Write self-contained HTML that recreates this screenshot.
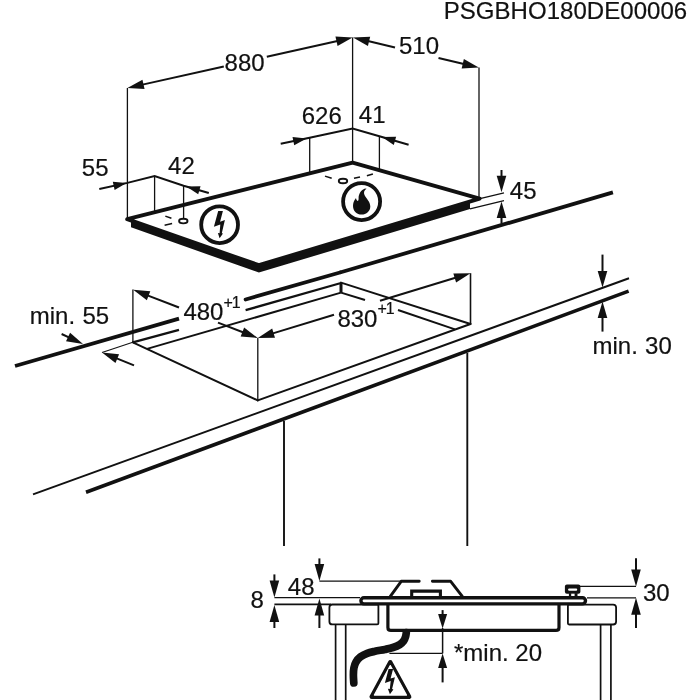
<!DOCTYPE html>
<html><head><meta charset="utf-8"><title>PSGBHO180DE00006</title>
<style>
html,body{margin:0;padding:0;background:#fff;}
body{width:700px;height:700px;overflow:hidden;}
svg{display:block;will-change:transform;filter:grayscale(1);}
svg text{font-family:"Liberation Sans",sans-serif;fill:#111;stroke:#111;stroke-width:0.2px;}
</style></head>
<body>
<svg width="700" height="700" viewBox="0 0 700 700">
<rect width="700" height="700" fill="#fff"/>
<text transform="translate(443.7,19.0) scale(1,0.985)" font-size="24" text-anchor="start" letter-spacing="0.05">PSGBHO180DE00006</text>
<polygon points="131.00,220.60 258.90,265.20 470.00,201.40 470.00,209.00 258.90,272.60 131.00,227.30" fill="#111" stroke="none" stroke-width="0" stroke-linejoin="miter"/>
<polygon points="127.20,219.20 352.60,162.60 479.60,198.70 258.90,265.20" fill="#fff" stroke="#111" stroke-width="3.9" stroke-linejoin="round"/>
<line x1="127.4" y1="88" x2="127.4" y2="218" stroke="#111" stroke-width="1.3" stroke-linecap="butt"/>
<line x1="352.6" y1="37.5" x2="352.6" y2="162" stroke="#111" stroke-width="1.3" stroke-linecap="butt"/>
<line x1="479" y1="67.6" x2="479" y2="198" stroke="#111" stroke-width="1.3" stroke-linecap="butt"/>
<line x1="154.6" y1="176" x2="154.6" y2="212.5" stroke="#111" stroke-width="1.3" stroke-linecap="butt"/>
<line x1="183.6" y1="185.7" x2="183.6" y2="219" stroke="#111" stroke-width="1.3" stroke-linecap="butt"/>
<line x1="309.7" y1="137.9" x2="309.7" y2="172" stroke="#111" stroke-width="1.3" stroke-linecap="butt"/>
<line x1="379.4" y1="136.9" x2="379.4" y2="169" stroke="#111" stroke-width="1.3" stroke-linecap="butt"/>
<line x1="140.28134782712976" y1="85.1171406283866" x2="223.8" y2="66.42557726465364" stroke="#111" stroke-width="2.0" stroke-linecap="butt"/>
<line x1="266.8" y1="56.80213143872113" x2="339.71865217287024" y2="40.482859371613415" stroke="#111" stroke-width="2.0" stroke-linecap="butt"/>
<polygon points="127.40,88.00 142.45,79.71 144.55,89.08" fill="#111" stroke="none" stroke-width="0" stroke-linejoin="miter"/>
<polygon points="352.60,37.60 337.55,45.89 335.45,36.52" fill="#111" stroke="none" stroke-width="0" stroke-linejoin="miter"/>
<text transform="translate(224.6,70.9) scale(1,0.985)" font-size="24" text-anchor="start" >880</text>
<line x1="365.83763981953325" y1="40.571645139649846" x2="395" y2="47.549284578696344" stroke="#111" stroke-width="2.0" stroke-linecap="butt"/>
<line x1="438.5" y1="57.957472178060414" x2="465.96236018046676" y2="64.52835486035015" stroke="#111" stroke-width="2.0" stroke-linecap="butt"/>
<polygon points="353.00,37.50 370.16,36.67 367.93,46.01" fill="#111" stroke="none" stroke-width="0" stroke-linejoin="miter"/>
<polygon points="478.80,67.60 461.64,68.43 463.87,59.09" fill="#111" stroke="none" stroke-width="0" stroke-linejoin="miter"/>
<text transform="translate(399,54.3) scale(1,0.985)" font-size="24" text-anchor="start" >510</text>
<polyline points="99.3,188.9 127.4,182.9 154.6,176 183.6,185.7 208.8,193" fill="none" stroke="#111" stroke-width="2" stroke-linejoin="miter"/>
<polygon points="126.60,183.00 114.61,189.94 112.81,181.73" fill="#111" stroke="none" stroke-width="0" stroke-linejoin="miter"/>
<polygon points="186.40,186.50 200.54,186.22 198.20,194.29" fill="#111" stroke="none" stroke-width="0" stroke-linejoin="miter"/>
<text transform="translate(81.8,176.1) scale(1,0.985)" font-size="24" text-anchor="start" >55</text>
<text transform="translate(168.1,174) scale(1,0.985)" font-size="24" text-anchor="start" >42</text>
<polyline points="280.7,143.7 309.6,137.8 352.6,128.6 379.4,136.3 408.6,144.8" fill="none" stroke="#111" stroke-width="2" stroke-linejoin="miter"/>
<polygon points="306.60,138.40 294.21,145.22 292.53,136.99" fill="#111" stroke="none" stroke-width="0" stroke-linejoin="miter"/>
<polygon points="382.00,137.10 396.14,136.84 393.79,144.91" fill="#111" stroke="none" stroke-width="0" stroke-linejoin="miter"/>
<text transform="translate(301.7,123.6) scale(1,0.985)" font-size="24" text-anchor="start" >626</text>
<text transform="translate(358.8,122.8) scale(1,0.985)" font-size="24" text-anchor="start" >41</text>
<line x1="480" y1="198.6" x2="504" y2="192.8" stroke="#111" stroke-width="1.2" stroke-linecap="butt"/>
<line x1="470" y1="208.9" x2="504" y2="200.7" stroke="#111" stroke-width="1.2" stroke-linecap="butt"/>
<line x1="501.5" y1="170" x2="501.5" y2="179.10000000000002" stroke="#111" stroke-width="2.0" stroke-linecap="butt"/>
<polygon points="501.50,192.30 496.70,175.80 506.30,175.80" fill="#111" stroke="none" stroke-width="0" stroke-linejoin="miter"/>
<line x1="501.5" y1="223.5" x2="501.5" y2="214.6" stroke="#111" stroke-width="2.0" stroke-linecap="butt"/>
<polygon points="501.50,201.40 506.30,217.90 496.70,217.90" fill="#111" stroke="none" stroke-width="0" stroke-linejoin="miter"/>
<text transform="translate(509.8,199.2) scale(1,0.985)" font-size="24" text-anchor="start" >45</text>
<ellipse cx="183.3" cy="221.1" rx="4.2" ry="2.3" fill="#fff" stroke="#111" stroke-width="1.9"/>
<line x1="165.3" y1="216.1" x2="171.4" y2="218.3" stroke="#111" stroke-width="1.5" stroke-linecap="butt"/>
<line x1="164.6" y1="225.3" x2="172.1" y2="223.6" stroke="#111" stroke-width="1.5" stroke-linecap="butt"/>
<ellipse cx="343" cy="181" rx="4.2" ry="2.3" fill="#fff" stroke="#111" stroke-width="1.9"/>
<line x1="325" y1="176.1" x2="331.7" y2="178.3" stroke="#111" stroke-width="1.5" stroke-linecap="butt"/>
<line x1="354" y1="178.3" x2="360" y2="176.9" stroke="#111" stroke-width="1.5" stroke-linecap="butt"/>
<line x1="366.9" y1="175.7" x2="372.9" y2="174" stroke="#111" stroke-width="1.5" stroke-linecap="butt"/>
<circle cx="219.6" cy="224.7" r="18.4" fill="#fff" stroke="#111" stroke-width="3.8"/>
<polygon points="218.20,211.10 222.90,211.10 220.10,221.70 224.90,219.90 221.80,233.20 223.00,233.40 219.60,238.30 217.90,233.00 219.60,233.20 220.30,224.50 213.90,226.80" fill="#111" stroke="none" stroke-width="0" stroke-linejoin="miter"/>
<circle cx="361.6" cy="201.6" r="18.5" fill="#fff" stroke="#111" stroke-width="3.8"/>
<path d="M365,188.6 C361,190 358.5,194 358.6,198.5 C358.6,200.5 358,201.5 357,200.5 C356.3,199.8 356,199 356,198 C353.8,200.5 353,203.5 353,206 C353,211 357,214.6 361.5,214.6 C366.5,214.6 370.3,211 370.3,206.5 C370.3,201.5 366,198.5 364.5,195 C363.5,192.5 364,190.3 366.6,188.8 Z" fill="#111"/>
<line x1="15" y1="366" x2="179" y2="318.7" stroke="#111" stroke-width="3.8" stroke-linecap="butt"/>
<line x1="245.6" y1="299.5" x2="340" y2="272.5" stroke="#111" stroke-width="3.8" stroke-linecap="round"/>
<line x1="340" y1="272.5" x2="612.9" y2="192.4" stroke="#111" stroke-width="3.8" stroke-linecap="butt"/>
<line x1="33" y1="494.4" x2="629" y2="278.2" stroke="#111" stroke-width="2.0" stroke-linecap="butt"/>
<line x1="86" y1="492.3" x2="628.6" y2="291.1" stroke="#111" stroke-width="3.6" stroke-linecap="butt"/>
<line x1="132.8" y1="342.3" x2="179" y2="329.8" stroke="#111" stroke-width="2.3" stroke-linecap="butt"/>
<line x1="245.6" y1="310.2" x2="341" y2="283" stroke="#111" stroke-width="2.3" stroke-linecap="butt"/>
<line x1="341" y1="282.6" x2="470.5" y2="324" stroke="#111" stroke-width="2.0" stroke-linecap="round"/>
<line x1="132.8" y1="342.3" x2="257.8" y2="400.4" stroke="#111" stroke-width="2.0" stroke-linecap="round"/>
<line x1="257.8" y1="400.4" x2="470.5" y2="324" stroke="#111" stroke-width="2.0" stroke-linecap="round"/>
<line x1="147" y1="348.9" x2="341" y2="292.6" stroke="#111" stroke-width="2.0" stroke-linecap="butt"/>
<line x1="341" y1="283" x2="341" y2="292.6" stroke="#111" stroke-width="3.0" stroke-linecap="butt"/>
<line x1="341" y1="292.6" x2="365" y2="300" stroke="#111" stroke-width="2.0" stroke-linecap="butt"/>
<line x1="398" y1="310" x2="455" y2="329.4" stroke="#111" stroke-width="2.0" stroke-linecap="butt"/>
<line x1="132.9" y1="289.6" x2="132.9" y2="342" stroke="#111" stroke-width="1.3" stroke-linecap="butt"/>
<line x1="257.8" y1="338" x2="257.8" y2="400" stroke="#111" stroke-width="1.3" stroke-linecap="butt"/>
<line x1="470.5" y1="273.2" x2="470.5" y2="324" stroke="#111" stroke-width="1.6" stroke-linecap="butt"/>
<line x1="145.51097156916018" y1="294.5623501575724" x2="179" y2="307.51717495987157" stroke="#111" stroke-width="2.0" stroke-linecap="butt"/>
<line x1="218" y1="322.60385232744784" x2="245.48902843083982" y2="333.23764984242763" stroke="#111" stroke-width="2.0" stroke-linecap="butt"/>
<polygon points="133.20,289.80 150.32,291.28 146.86,300.23" fill="#111" stroke="none" stroke-width="0" stroke-linejoin="miter"/>
<polygon points="257.80,338.00 240.68,336.52 244.14,327.57" fill="#111" stroke="none" stroke-width="0" stroke-linejoin="miter"/>
<text transform="translate(183.4,320.2) scale(1,0.985)" font-size="24" text-anchor="start" >480</text>
<text transform="translate(223.6,307.6) scale(1,0.985)" font-size="16" text-anchor="start" letter-spacing="-1.2">+1</text>
<line x1="270.4270162876875" y1="334.1531233876721" x2="334" y2="314.78533145275037" stroke="#111" stroke-width="2.0" stroke-linecap="butt"/>
<line x1="380" y1="300.7712270803949" x2="457.87298371231253" y2="277.0468766123279" stroke="#111" stroke-width="2.0" stroke-linecap="butt"/>
<polygon points="257.80,338.00 272.18,328.60 274.98,337.78" fill="#111" stroke="none" stroke-width="0" stroke-linejoin="miter"/>
<polygon points="470.50,273.20 456.12,282.60 453.32,273.42" fill="#111" stroke="none" stroke-width="0" stroke-linejoin="miter"/>
<text transform="translate(337.4,326.6) scale(1,0.985)" font-size="24" text-anchor="start" >830</text>
<text transform="translate(377.6,314.2) scale(1,0.985)" font-size="16" text-anchor="start" letter-spacing="-1.2">+1</text>
<text transform="translate(29.8,324.2) scale(1,0.985)" font-size="24" text-anchor="start" word-spacing="0.6">min. 55</text>
<line x1="61.6" y1="334" x2="71.04123940456823" y2="338.41179411428425" stroke="#111" stroke-width="2.0" stroke-linecap="butt"/>
<polygon points="83.00,344.00 66.02,341.36 70.08,332.67" fill="#111" stroke="none" stroke-width="0" stroke-linejoin="miter"/>
<line x1="134" y1="365.4" x2="114.22935881801448" y2="357.36817701981835" stroke="#111" stroke-width="2.0" stroke-linecap="butt"/>
<polygon points="102.00,352.40 119.09,354.16 115.48,363.06" fill="#111" stroke="none" stroke-width="0" stroke-linejoin="miter"/>
<line x1="102" y1="352.4" x2="132.8" y2="342.3" stroke="#111" stroke-width="1.1" stroke-linecap="butt"/>
<line x1="284" y1="421" x2="284" y2="546" stroke="#111" stroke-width="1.9" stroke-linecap="butt"/>
<line x1="467.3" y1="353" x2="467.3" y2="546" stroke="#111" stroke-width="1.9" stroke-linecap="butt"/>
<line x1="602.5" y1="254.6" x2="602.5" y2="274.3" stroke="#111" stroke-width="2.0" stroke-linecap="butt"/>
<polygon points="602.50,287.50 597.70,271.00 607.30,271.00" fill="#111" stroke="none" stroke-width="0" stroke-linejoin="miter"/>
<line x1="602.5" y1="331.6" x2="602.5" y2="314.8" stroke="#111" stroke-width="2.0" stroke-linecap="butt"/>
<polygon points="602.50,301.60 607.30,318.10 597.70,318.10" fill="#111" stroke="none" stroke-width="0" stroke-linejoin="miter"/>
<text transform="translate(592.5,353.5) scale(1,0.985)" font-size="24" text-anchor="start" word-spacing="0.6">min. 30</text>
<line x1="319.4" y1="558.4" x2="319.4" y2="567.4" stroke="#111" stroke-width="2.0" stroke-linecap="butt"/>
<polygon points="319.40,581.00 314.60,564.00 324.20,564.00" fill="#111" stroke="none" stroke-width="0" stroke-linejoin="miter"/>
<line x1="319.4" y1="581.1" x2="401" y2="581.1" stroke="#111" stroke-width="1.3" stroke-linecap="butt"/>
<line x1="274.4" y1="574.4" x2="274.4" y2="584.0" stroke="#111" stroke-width="2.0" stroke-linecap="butt"/>
<polygon points="274.40,597.60 269.60,580.60 279.20,580.60" fill="#111" stroke="none" stroke-width="0" stroke-linejoin="miter"/>
<line x1="274.4" y1="597.6" x2="360" y2="597.6" stroke="#111" stroke-width="1.3" stroke-linecap="butt"/>
<line x1="274.4" y1="604.4" x2="331" y2="604.4" stroke="#111" stroke-width="1.6" stroke-linecap="butt"/>
<line x1="274.4" y1="628" x2="274.4" y2="618.6" stroke="#111" stroke-width="2.0" stroke-linecap="butt"/>
<polygon points="274.40,605.00 279.20,622.00 269.60,622.00" fill="#111" stroke="none" stroke-width="0" stroke-linejoin="miter"/>
<line x1="319.4" y1="628" x2="319.4" y2="612.0" stroke="#111" stroke-width="2.0" stroke-linecap="butt"/>
<polygon points="319.40,598.40 324.20,615.40 314.60,615.40" fill="#111" stroke="none" stroke-width="0" stroke-linejoin="miter"/>
<text transform="translate(250.4,608.2) scale(1,0.985)" font-size="24" text-anchor="start" >8</text>
<text transform="translate(287.8,595) scale(1,0.985)" font-size="24" text-anchor="start" >48</text>
<path d="M332.4,604.5 H377.2 Q378.4,604.5 378.4,605.7 V623.2 Q378.4,624.4 377.2,624.4 H332.4 Q329.4,624.4 329.4,621.4 V607.5 Q329.4,604.5 332.4,604.5 Z" fill="#fff" stroke="#111" stroke-width="1.8"/>
<path d="M569.1,604.6 H613.1 Q616.1,604.6 616.1,607.6 V621.5 Q616.1,624.5 613.1,624.5 H569.1 Q567.9,624.5 567.9,623.3 V605.8 Q567.9,604.6 569.1,604.6 Z" fill="#fff" stroke="#111" stroke-width="1.8"/>
<line x1="335.6" y1="624.4" x2="335.6" y2="700" stroke="#111" stroke-width="1.7" stroke-linecap="butt"/>
<line x1="345.7" y1="624.4" x2="345.7" y2="700" stroke="#111" stroke-width="1.7" stroke-linecap="butt"/>
<line x1="600.6" y1="624.6" x2="600.6" y2="700" stroke="#111" stroke-width="1.7" stroke-linecap="butt"/>
<line x1="610.9" y1="624.6" x2="610.9" y2="700" stroke="#111" stroke-width="1.7" stroke-linecap="butt"/>
<path d="M406.30,632.60 C406.18,633.27 406.03,635.22 405.60,636.60 C405.17,637.98 404.68,639.57 403.70,640.90 C402.72,642.23 401.48,643.50 399.70,644.60 C397.92,645.70 395.45,646.70 393.00,647.50 C390.55,648.30 388.00,648.77 385.00,649.40 C382.00,650.03 377.97,650.65 375.00,651.30 C372.03,651.95 369.63,652.37 367.20,653.30 C364.77,654.23 362.27,655.45 360.40,656.90 C358.53,658.35 357.08,660.15 356.00,662.00 C354.92,663.85 354.33,665.83 353.90,668.00 C353.47,670.17 353.42,672.50 353.40,675.00 C353.38,677.50 353.73,681.67 353.80,683.00" fill="none" stroke="#111" stroke-width="7.7" stroke-linecap="round" stroke-linejoin="round"/>
<path d="M387.9,604 V627.4 Q387.9,630.4 390.9,630.4 H556 Q559,630.4 559,627.4 V604" fill="none" stroke="#111" stroke-width="3.2"/>
<path d="M419.2,581.3 H401.2 L390.3,596.4" fill="none" stroke="#111" stroke-width="2.9" stroke-linecap="round" stroke-linejoin="round"/>
<path d="M432.4,581.3 H450.7 L462.3,596.4" fill="none" stroke="#111" stroke-width="2.9" stroke-linecap="round" stroke-linejoin="round"/>
<path d="M411.7,596.5 V591.1 H440.4 V596.5" fill="none" stroke="#111" stroke-width="3.1"/>
<rect x="564.9" y="584.6" width="15.5" height="9.1" rx="2" fill="#111"/>
<rect x="568.1" y="588.4" width="9.1" height="2.4" rx="1.1" fill="#fff"/>
<rect x="568.9" y="593.2" width="8.6" height="3.6" fill="#111"/>
<rect x="571.2" y="593.7" width="3.4" height="2.4" fill="#fff"/>
<rect x="360.9" y="597.75" width="224.6" height="6.1" rx="3.05" fill="#fff" stroke="#111" stroke-width="3.4"/>
<line x1="580" y1="586.4" x2="636" y2="586.4" stroke="#111" stroke-width="1.3" stroke-linecap="butt"/>
<line x1="587" y1="597.8" x2="636" y2="597.8" stroke="#111" stroke-width="1.3" stroke-linecap="butt"/>
<line x1="636" y1="558.3" x2="636.0" y2="572.8" stroke="#111" stroke-width="2.0" stroke-linecap="butt"/>
<polygon points="636.00,586.40 631.20,569.40 640.80,569.40" fill="#111" stroke="none" stroke-width="0" stroke-linejoin="miter"/>
<line x1="636" y1="628" x2="636.0" y2="611.4" stroke="#111" stroke-width="2.0" stroke-linecap="butt"/>
<polygon points="636.00,597.80 640.80,614.80 631.20,614.80" fill="#111" stroke="none" stroke-width="0" stroke-linejoin="miter"/>
<text transform="translate(643,601) scale(1,0.985)" font-size="24" text-anchor="start" >30</text>
<line x1="389.4" y1="653.4" x2="442.6" y2="653.4" stroke="#111" stroke-width="1.3" stroke-linecap="butt"/>
<line x1="442.6" y1="628" x2="442.6" y2="653.4" stroke="#111" stroke-width="1.5" stroke-linecap="butt"/>
<line x1="442.6" y1="610.1" x2="442.6" y2="617.0" stroke="#111" stroke-width="2.0" stroke-linecap="butt"/>
<polygon points="442.60,628.60 438.10,614.10 447.10,614.10" fill="#111" stroke="none" stroke-width="0" stroke-linejoin="miter"/>
<line x1="442.6" y1="682.4" x2="442.6" y2="665.0" stroke="#111" stroke-width="2.0" stroke-linecap="butt"/>
<polygon points="442.60,653.40 447.10,667.90 438.10,667.90" fill="#111" stroke="none" stroke-width="0" stroke-linejoin="miter"/>
<text transform="translate(454,661) scale(1,0.985)" font-size="24" text-anchor="start" >*min. 20</text>
<polygon points="390.27,662.21 409.18,696.70 371.68,696.70" fill="#111" stroke="#111" stroke-width="4.4" stroke-linejoin="round"/>
<polygon points="390.28,665.56 406.48,695.10 374.36,695.10" fill="#fff" stroke="#fff" stroke-width="1.2" stroke-linejoin="round"/>
<polygon points="388.60,669.10 393.10,669.10 390.60,678.60 394.90,677.20 392.10,689.10 393.40,689.40 389.90,694.20 387.90,688.70 389.80,688.90 390.70,681.00 384.90,682.90" fill="#111" stroke="none" stroke-width="0" stroke-linejoin="miter"/>
</svg>
</body></html>
